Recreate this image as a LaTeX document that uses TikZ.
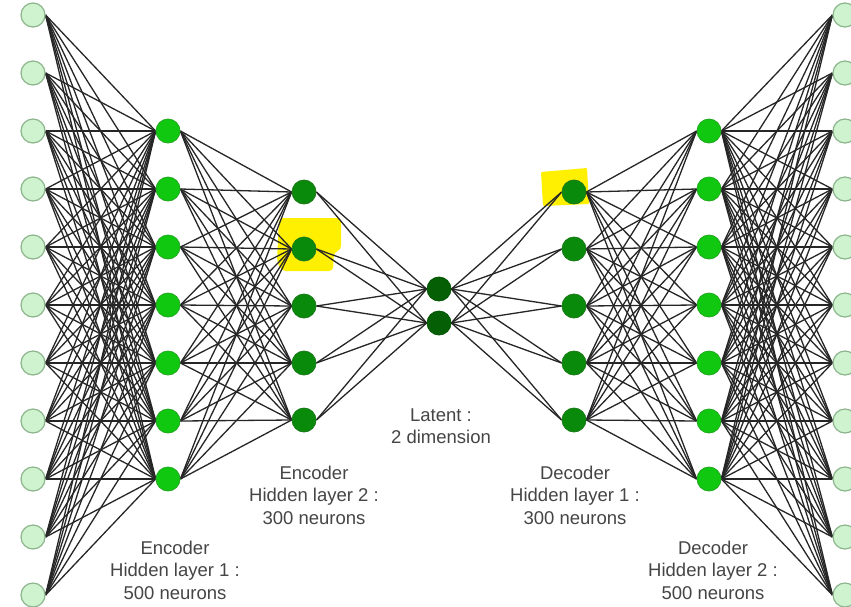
\documentclass[tikz,border=0pt]{standalone}
\usepackage{fontspec}
\setmainfont{Liberation Sans}
\pgfdeclarelayer{bg}
\pgfdeclarelayer{hl}
\pgfdeclarelayer{edges}
\pgfsetlayers{bg,hl,edges,main}
\definecolor{inpfill}{HTML}{CFF3CF}
\definecolor{inpdraw}{HTML}{8DB58D}
\definecolor{brightg}{HTML}{10C810}
\definecolor{brightd}{HTML}{22A822}
\definecolor{midg}{HTML}{0A8A0A}
\definecolor{midd}{HTML}{1A7A1A}
\definecolor{darkg}{HTML}{056005}
\definecolor{hlyellow}{HTML}{FFEF00}
\definecolor{txtgray}{HTML}{454545}
\begin{document}
\begin{tikzpicture}[x=1pt,y=-1pt,
  neuron/.style={circle,inner sep=0pt,minimum size=24pt,line width=1.2pt},
  inpn/.style={neuron,fill=inpfill,draw=inpdraw},
  brn/.style={neuron,fill=brightg,draw=brightd,line width=0.8pt},
  midn/.style={neuron,fill=midg,draw=midd,line width=0.8pt},
  latn/.style={neuron,fill=darkg,draw=darkg!90!black,line width=0.8pt},
  edge/.style={draw=black!85,line width=1.3pt},
  lbl/.style={align=center,text=txtgray,font=\fontsize{18.5}{22.5}\selectfont},
  hlbox/.style={fill=hlyellow,draw=none}
]
\useasboundingbox (0,0) rectangle (851,606);
\begin{pgfonlayer}{bg}
\fill[white] (0,0) rectangle (851,606);
\end{pgfonlayer}

% nodes
\foreach \k in {0,...,10} \node[inpn] (i\k) at (33,{15+58*\k}) {};
\foreach \k in {0,...,6} \node[brn] (a\k) at (168,{131+58*\k}) {};
\foreach \k in {0,...,4} \node[midn] (b\k) at (304,{192+57*\k}) {};
\node[latn] (l0) at (439,289) {};
\node[latn] (l1) at (439,323) {};
\foreach \k in {0,...,4} \node[midn] (c\k) at (574,{192+57*\k}) {};
\foreach \k in {0,...,6} \node[brn] (d\k) at (709,{131+58*\k}) {};
\foreach \k in {0,...,10} \node[inpn] (o\k) at (845,{15+58*\k}) {};

% highlights
\begin{pgfonlayer}{hl}
\fill[hlbox,rounded corners=4pt] (279,218) -- (341,218) -- (341,250) -- (334,252) -- (333,271) -- (282,271) -- (277,262) -- cycle;
\fill[hlbox,rounded corners=1pt] (541,172) -- (587,168) -- (589,204) -- (543,206) -- cycle;
\end{pgfonlayer}

% edges
\begin{pgfonlayer}{edges}
\foreach \p in {0,...,10} \foreach \q in {0,...,6} \draw[edge] (i\p.east) -- (a\q.west);
\foreach \p in {0,...,6} \foreach \q in {0,...,4} \draw[edge] (a\p.east) -- (b\q.west);
\foreach \p in {0,...,4} \foreach \q in {0,1} \draw[edge] (b\p.east) -- (l\q.west);
\foreach \p in {0,1} \foreach \q in {0,...,4} \draw[edge] (l\p.east) -- (c\q.west);
\foreach \p in {0,...,4} \foreach \q in {0,...,6} \draw[edge] (c\p.east) -- (d\q.west);
\foreach \p in {0,...,6} \foreach \q in {0,...,10} \draw[edge] (d\p.east) -- (o\q.west);
\end{pgfonlayer}

% labels
\node[lbl] (t1) at (175,570) {Encoder\\Hidden layer 1 :\\500 neurons};
\node[lbl] (t2) at (314,495) {Encoder\\Hidden layer 2 :\\300 neurons};
\node[lbl] (t3) at (441,426) {Latent :\\2 dimension};
\node[lbl] (t4) at (575,495) {Decoder\\Hidden layer 1 :\\300 neurons};
\node[lbl] (t5) at (713,570) {Decoder\\Hidden layer 2 :\\500 neurons};
\end{tikzpicture}
\end{document}
